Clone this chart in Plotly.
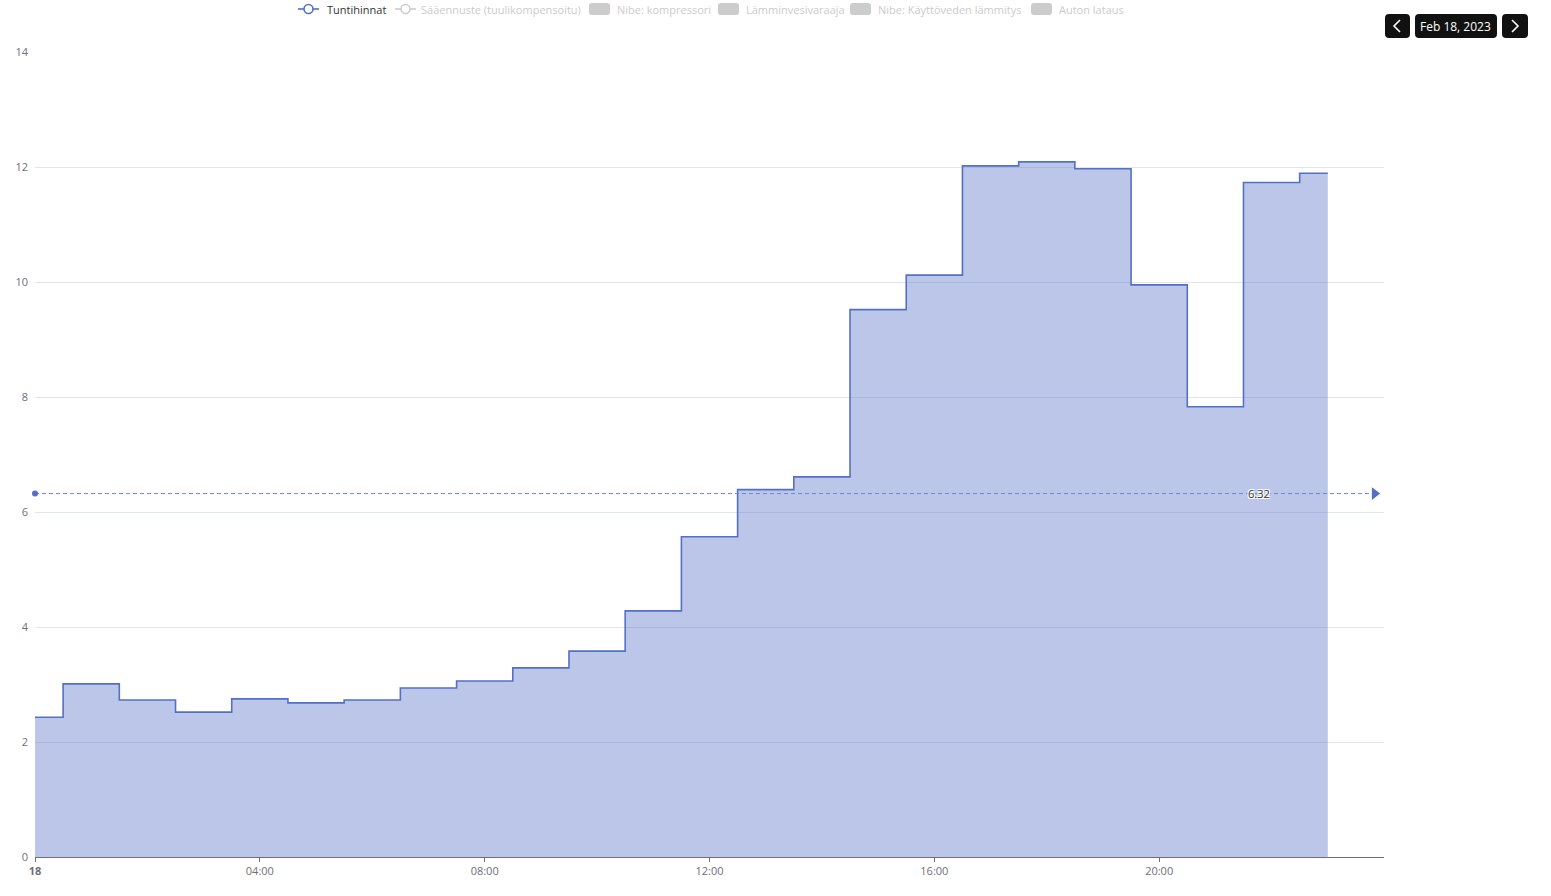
import plotly.graph_objects as go

hours = [f"2023-02-18 {h:02d}:00" for h in range(24)]
prices = [2.43, 3.01, 2.73, 2.52, 2.75, 2.68, 2.73, 2.94, 3.06, 3.29, 3.58, 4.28,
          5.57, 6.39, 6.61, 9.52, 10.12, 12.02, 12.09, 11.97, 9.95, 7.83, 11.73, 11.89]
x_ticks = ["2023-02-18 00:00", "2023-02-18 04:00", "2023-02-18 08:00",
           "2023-02-18 12:00", "2023-02-18 16:00", "2023-02-18 20:00"]
x_ticktext = ["<b>18</b>", "04:00", "08:00", "12:00", "16:00", "20:00"]
y_ticks = [0, 2, 4, 6, 8, 10, 12, 14]
legend_items = [("Tuntihinnat", "line", True), ("Sääennuste (tuulikompensoitu)", "line", False),
                ("Nibe: kompressori", "box", False), ("Lämminvesivaraaja", "box", False),
                ("Nibe: Käyttöveden lämmitys", "box", False), ("Auton lataus", "box", False)]
date_label = "Feb 18, 2023"

BLUE = "#5470c6"
FONT = "Open Sans, Noto Sans, sans-serif"
FIG_W, FIG_H = 1551, 896
# plot area in screen pixels
SL, SR, ST, SB = 35, 1384, 52, 857
W, H = SR - SL, SB - ST


def px(x):
    return (x - SL) / W


def py(y):
    return (SB - y) / H


mean_val = sum(prices) / len(prices)

fig = go.Figure()
fig.add_trace(go.Scatter(
    x=hours, y=prices, mode="lines", line=dict(shape="hvh", color=BLUE, width=1.6),
    fill="tozeroy", fillcolor="rgba(84,112,198,0.4)", showlegend=False, hoverinfo="skip"))
fig.add_trace(go.Scatter(
    x=["2023-02-18 00:00", "2023-02-18 23:50"], y=[mean_val, mean_val], mode="lines",
    line=dict(color="#6f86d0", width=1, dash="4px,3px"), showlegend=False, hoverinfo="skip",
    cliponaxis=False))
fig.add_trace(go.Scatter(
    x=["2023-02-18 00:00"], y=[mean_val], mode="markers",
    marker=dict(symbol="circle", size=6, color=BLUE), showlegend=False, cliponaxis=False))
fig.add_trace(go.Scatter(
    x=["2023-02-18 23:50"], y=[mean_val], mode="markers",
    marker=dict(symbol="triangle-right", size=11, color=BLUE), showlegend=False, cliponaxis=False))

halo = "1px 1px 0 white, -1px -1px 0 white, 1px -1px 0 white, -1px 1px 0 white"
annotations = [dict(x="2023-02-18 21:47", y=mean_val, xref="x", yref="y", text=f"{mean_val:.2f}",
                    showarrow=False, font=dict(family=FONT, size=11, color="#333", shadow=halo),
                    xanchor="center", yanchor="middle")]
shapes = []

# custom legend
legend_pos = [(298, 325), (395, 419), (589, 615), (718, 744), (850, 876), (1031, 1057)]
ly = 9
for (name, kind, active), (ix, tx) in zip(legend_items, legend_pos):
    col = BLUE if active else "#cccccc"
    tcol = "#333333" if active else "#cccccc"
    if kind == "line":
        shapes.append(dict(type="line", xref="paper", yref="paper", x0=px(ix), x1=px(ix + 21),
                           y0=py(ly), y1=py(ly), line=dict(color=col, width=1.6)))
        shapes.append(dict(type="circle", xref="paper", yref="paper", x0=px(ix + 6), x1=px(ix + 15),
                           y0=py(ly - 4.5), y1=py(ly + 4.5), fillcolor="white",
                           line=dict(color=col, width=1.6)))
    else:
        x0, x1, y0, y1, r = ix, ix + 21, ly - 6, ly + 6, 3
        path = (f"M {px(x0 + r)},{py(y0)} L {px(x1 - r)},{py(y0)} Q {px(x1)},{py(y0)} {px(x1)},{py(y0 + r)} "
                f"L {px(x1)},{py(y1 - r)} Q {px(x1)},{py(y1)} {px(x1 - r)},{py(y1)} "
                f"L {px(x0 + r)},{py(y1)} Q {px(x0)},{py(y1)} {px(x0)},{py(y1 - r)} "
                f"L {px(x0)},{py(y0 + r)} Q {px(x0)},{py(y0)} {px(x0 + r)},{py(y0)} Z")
        shapes.append(dict(type="path", xref="paper", yref="paper", path=path,
                           fillcolor=col, line=dict(width=0)))
    annotations.append(dict(x=px(tx), y=py(ly), xref="paper", yref="paper", text=name,
                            showarrow=False, xanchor="left", yanchor="middle",
                            font=dict(family=FONT, size=11, color=tcol)))


def rrect(x0, y0, x1, y1, r):
    return (f"M {px(x0 + r)},{py(y0)} L {px(x1 - r)},{py(y0)} Q {px(x1)},{py(y0)} {px(x1)},{py(y0 + r)} "
            f"L {px(x1)},{py(y1 - r)} Q {px(x1)},{py(y1)} {px(x1 - r)},{py(y1)} "
            f"L {px(x0 + r)},{py(y1)} Q {px(x0)},{py(y1)} {px(x0)},{py(y1 - r)} "
            f"L {px(x0)},{py(y0 + r)} Q {px(x0)},{py(y0)} {px(x0 + r)},{py(y0)} Z")


# navigation buttons
for (bx0, bx1) in [(1385, 1410), (1415, 1497), (1502, 1528)]:
    shapes.append(dict(type="path", xref="paper", yref="paper", path=rrect(bx0, 14, bx1, 38, 4),
                       fillcolor="#111111", line=dict(width=0)))
shapes.append(dict(type="path", xref="paper", yref="paper",
                   path=f"M {px(1400)},{py(20)} L {px(1394)},{py(26)} L {px(1400)},{py(32)}",
                   line=dict(color="white", width=1.6)))
shapes.append(dict(type="path", xref="paper", yref="paper",
                   path=f"M {px(1512)},{py(20)} L {px(1518)},{py(26)} L {px(1512)},{py(32)}",
                   line=dict(color="white", width=1.6)))
annotations.append(dict(x=px(1456), y=py(26), xref="paper", yref="paper", text=date_label,
                        showarrow=False, xanchor="center", yanchor="middle",
                        font=dict(family=FONT, size=12, color="white")))

fig.update_layout(
    width=FIG_W, height=FIG_H,
    margin=dict(l=SL, r=FIG_W - SR, t=ST, b=FIG_H - SB),
    paper_bgcolor="white", plot_bgcolor="white", showlegend=False,
    shapes=shapes, annotations=annotations,
    font=dict(family=FONT, size=11, color="#6E7079"),
    xaxis=dict(type="date", range=["2023-02-18 00:00", "2023-02-19 00:00"],
               tickmode="array", tickvals=x_ticks, ticktext=x_ticktext, automargin=False,
               showgrid=False, showline=True, linecolor="#6E7079", linewidth=1,
               ticks="outside", ticklen=4, tickcolor="#6E7079", zeroline=False,
               tickfont=dict(family=FONT, size=11, color="#6E7079")),
    yaxis=dict(range=[0, 14], tickmode="array", tickvals=y_ticks, showgrid=True, automargin=False,
               gridcolor="#E0E6F1", gridwidth=1, zeroline=False, showline=False,
               ticklabelstandoff=6, tickfont=dict(family=FONT, size=11, color="#6E7079")),
)

fig.write_html("out.html", config={"displayModeBar": False},
               post_script="document.body.style.margin='0';document.body.style.overflow='hidden';")
